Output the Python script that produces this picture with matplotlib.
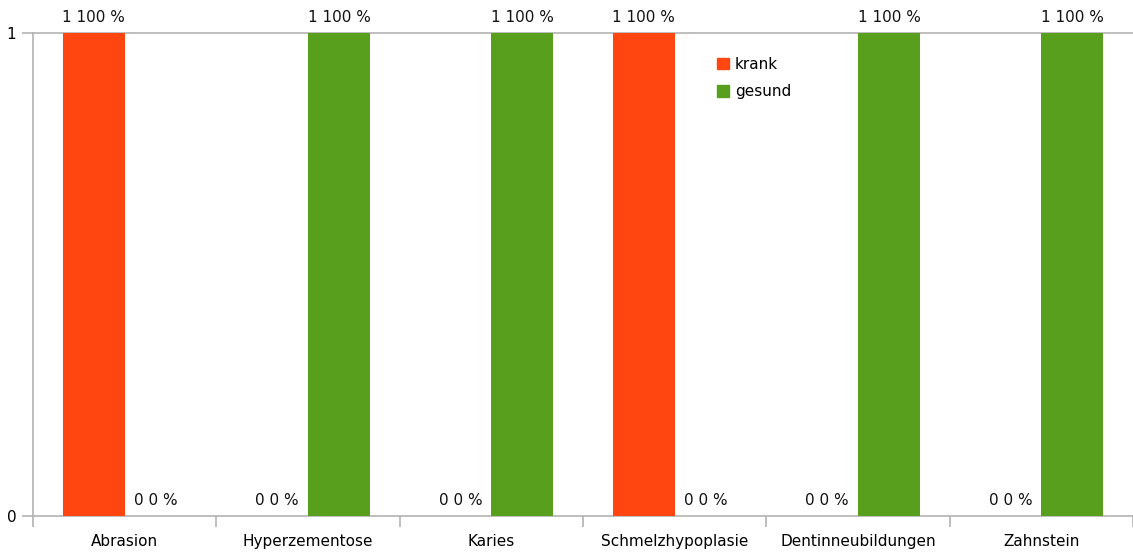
import numpy as np
import matplotlib.pyplot as plt
from matplotlib.patches import Patch

categories = ['Abrasion', 'Hyperzementose', 'Karies', 'Schmelzhypoplasie',
              'Dentinneubildungen', 'Zahnstein']
krank = [1, 0, 0, 1, 0, 0]
gesund = [0, 1, 1, 0, 1, 1]
series = ['krank', 'gesund']
colors = ['#FF4510', '#589F1E']

fig = plt.figure(figsize=(11.33, 5.54), dpi=100)
ax = fig.add_axes([33 / 1133, 1 - 516 / 554, 1 - 33 / 1133, (516 - 33) / 554])

x = np.arange(len(categories))
w = 0.338
total = np.array(krank) + np.array(gesund)
for i, (vals, col) in enumerate(zip([krank, gesund], colors)):
    xs = x + (i - 0.5) * w
    ax.bar(xs, vals, width=w, color=col, zorder=3)
    for xi, v, t in zip(xs, vals, total):
        pct = int(round(100 * v / t)) if t else 0
        ax.annotate(f'{v} {pct} %', (xi, v), xytext=(0, 8),
                    textcoords='offset pixels', ha='center', va='bottom',
                    fontsize=11, color='#111111')

ax.set_xlim(-0.5, len(categories) - 0.5)
ax.set_ylim(0, 1)
ax.set_yticks([0, 1])
ax.set_xticks(np.arange(len(categories) + 1) - 0.5)
ax.set_xticklabels([])
ax.set_xticks(x, minor=True)
ax.set_xticklabels(categories, minor=True, fontsize=11)
ax.tick_params(axis='x', which='minor', length=0, pad=13)
ax.tick_params(axis='x', which='major', length=8, color='#b3b3b3', width=1.2)
ax.tick_params(axis='y', length=8, color='#b3b3b3', width=1.2, labelsize=11, pad=4)

for s in ['top', 'right']:
    ax.spines[s].set_visible(False)
for s in ['left', 'bottom']:
    ax.spines[s].set_color('#b3b3b3')
    ax.spines[s].set_linewidth(1.2)
ax.axhline(1, color='#b3b3b3', lw=1.2, zorder=2, clip_on=False)

handles = [Patch(color=c, label=s) for c, s in zip(colors, series)]
fig.legend(handles=handles, loc='upper left', bbox_to_anchor=(703 / 1133, 1 - 43 / 554),
           frameon=False, fontsize=11, handlelength=0.8, handleheight=0.8,
           handletextpad=0.4, labelspacing=0.8)

fig.savefig('out.png', dpi=100)
